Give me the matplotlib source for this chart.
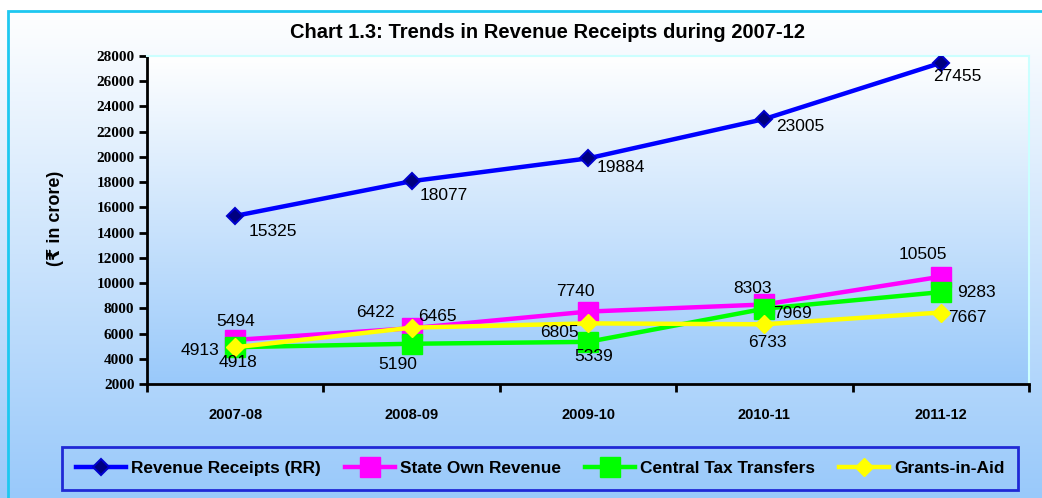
import matplotlib
matplotlib.use('Agg')
import matplotlib.pyplot as plt
import numpy as np
from matplotlib.colors import LinearSegmentedColormap
from matplotlib.patches import Rectangle

# datos
years = ['2007-08', '2008-09', '2009-10', '2010-11', '2011-12']
revenue_receipts = [15325, 18077, 19884, 23005, 27455]
state_own_revenue = [5494, 6422, 7740, 8303, 10505]
central_tax = [4918, 5190, 5339, 7969, 9283]
grants_in_aid = [4913, 6465, 6805, 6733, 7667]
yticks = list(range(2000, 28001, 2000))

# desplazamiento de las etiquetas (pixeles)
off_rr = [(38, -16), (32, -14), (33, -9), (36, -7), (17, -14)]
off_sor = [(0, 18), (-36, 16), (-13, 20), (-12, 16), (-18, 22)]
off_ctt = [(3, -15), (-14, -21), (6, -15), (28, -5), (36, 0)]
off_gia = [(-35, -3), (26, 11), (-29, -9), (3, -18), (27, -5)]

fig = plt.figure(figsize=(10.42, 4.98), dpi=100)
fig.patch.set_facecolor('white')

# fondo degradado de la figura
grad = LinearSegmentedColormap.from_list('g', ['#ffffff', '#99c9fa'])
bg = fig.add_axes([0, 0, 1, 1], zorder=-10)
bg.set_xlim(0, 1)
bg.set_ylim(0, 1)
bg.axis('off')
bg.imshow(np.linspace(0, 1, 256).reshape(-1, 1), cmap=grad, aspect='auto',
          extent=[0, 1, 0, 1 - 11 / 498], origin='upper')
bg.add_patch(Rectangle((8 / 1042, -0.1), 1.2, 1 - 11 / 498 + 0.1, fill=False,
                       edgecolor='#1ec8f0', lw=2))

ax = fig.add_axes([147 / 1042, 1 - 384 / 498, 882 / 1042, 328 / 498])
ax.set_facecolor('none')
ax.imshow(np.linspace(0, 1, 256).reshape(-1, 1), cmap=grad, aspect='auto',
          extent=[0, 5, 2000, 28000], origin='upper', zorder=0)

x = np.arange(len(years)) + 0.5

ax.plot(x, revenue_receipts, color='#0000ff', lw=3.2, marker='D', ms=8,
        mfc='#000080', mec='#0000cc', mew=1.5, label='Revenue Receipts (RR)', zorder=5)
ax.plot(x, state_own_revenue, color='#ff00ff', lw=3.2, marker='s', ms=14,
        mfc='#ff00ff', mec='#ff00ff', label='State Own Revenue', zorder=3)
ax.plot(x, central_tax, color='#00ff00', lw=3.2, marker='s', ms=14,
        mfc='#00ff00', mec='#00ff00', label='Central Tax Transfers', zorder=4)
ax.plot(x, grants_in_aid, color='#ffff00', lw=3.2, marker='D', ms=9,
        mfc='#ffff00', mec='#ffff00', label='Grants-in-Aid', zorder=4.5)

for serie, offs in [(revenue_receipts, off_rr), (state_own_revenue, off_sor),
                    (central_tax, off_ctt), (grants_in_aid, off_gia)]:
    for xi, v, o in zip(x, serie, offs):
        ax.annotate(str(v), (xi, v), xytext=o, textcoords='offset pixels',
                    ha='center', va='center', fontsize=12.5,
                    family='Liberation Sans', color='black', zorder=6)

ax.set_xlim(0, 5)
ax.set_ylim(2000, 28000)
ax.set_yticks(yticks)
ax.set_yticklabels([str(t) for t in yticks], family='Liberation Serif',
                   fontweight='bold', fontsize=11)
ax.set_xticks(np.arange(6))
ax.set_xticklabels([])
ax.set_xticks(x, minor=True)
ax.set_xticklabels(years, minor=True, family='Liberation Sans',
                   fontweight='bold', fontsize=10.5)
ax.tick_params(axis='x', which='minor', length=0, pad=17)
ax.tick_params(axis='x', which='major', length=6, width=2, direction='out')
ax.tick_params(axis='y', length=6, width=2, direction='out', pad=3)

for s in ['left', 'bottom']:
    ax.spines[s].set_linewidth(2)
    ax.spines[s].set_color('black')
for s in ['top', 'right']:
    ax.spines[s].set_linewidth(1.5)
    ax.spines[s].set_color('#ccffff')

fig.text(548 / 1042, 1 - 33 / 498, 'Chart 1.3: Trends in Revenue Receipts during 2007-12',
         ha='center', va='center', fontsize=14.5, fontweight='bold', family='Liberation Sans')
fig.text(55 / 1042, 1 - 218 / 498, '(₹ in crore)', rotation=90, ha='center', va='center',
         fontsize=13, fontweight='bold', family=['Liberation Sans', 'DejaVu Sans'])

leg = fig.legend(loc='lower left', bbox_to_anchor=(62 / 1042, 1 - 490 / 498, 956 / 1042, 45 / 498),
                 ncol=4, mode='expand', frameon=True, fancybox=False, handlelength=2.9,
                 prop={'family': 'Liberation Sans', 'weight': 'bold', 'size': 12.4},
                 borderaxespad=0, handletextpad=0.3, borderpad=0.8)
leg.get_frame().set_edgecolor('#0000cc')
leg.get_frame().set_linewidth(2)
leg.get_frame().set_facecolor('none')

fig.savefig('out.png', dpi=100)
